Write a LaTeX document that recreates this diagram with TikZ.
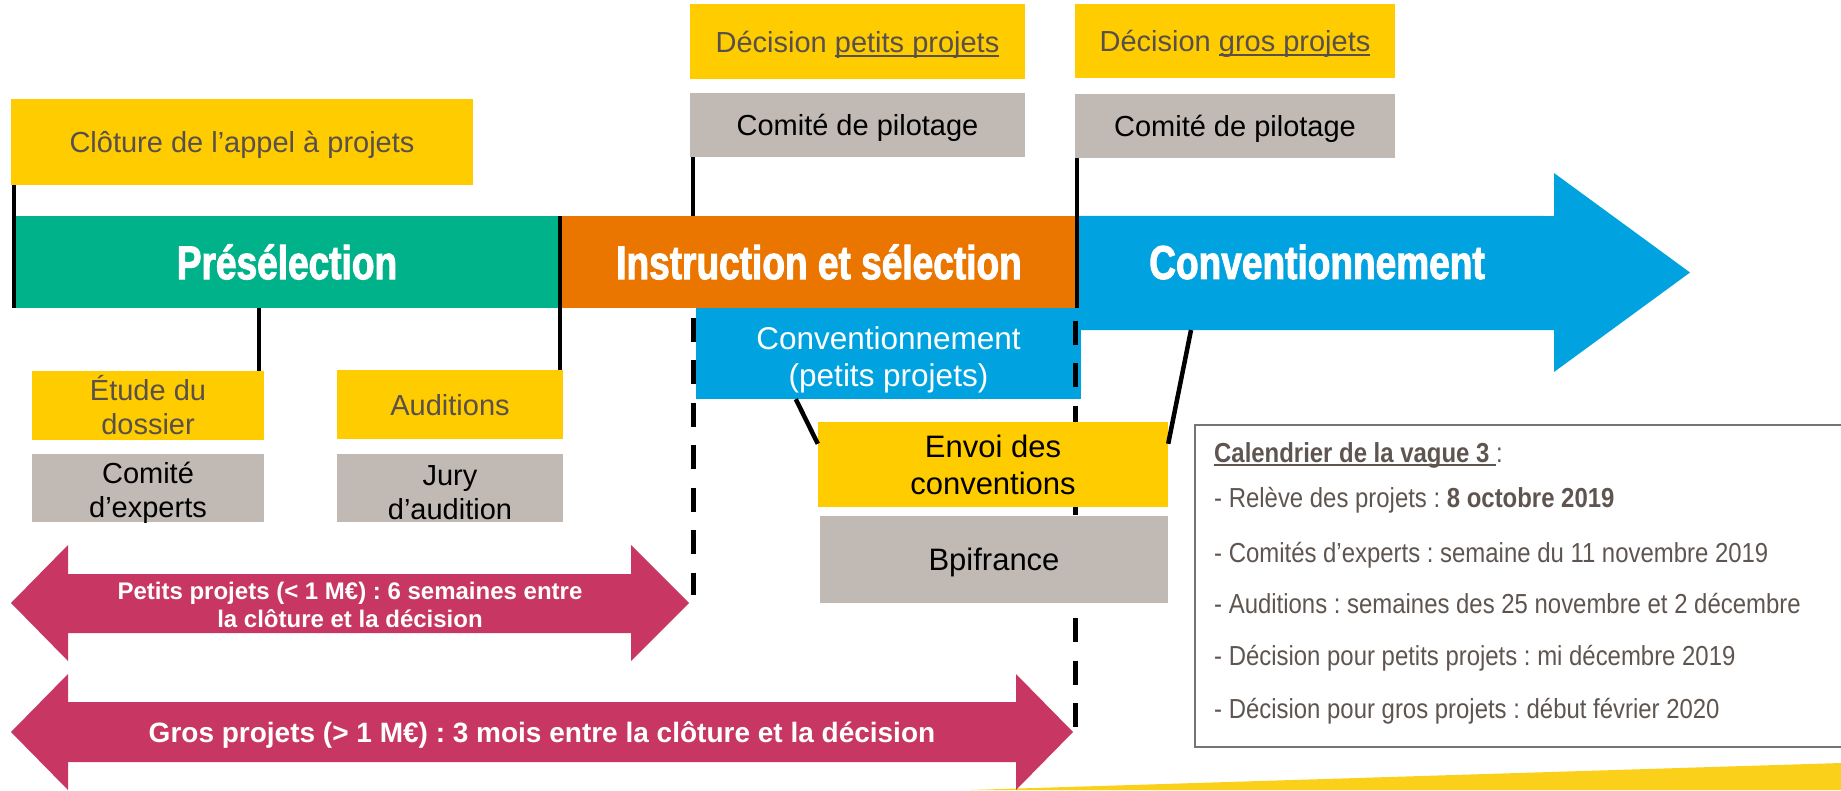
\documentclass[tikz,border=0pt]{standalone}
\usepackage{fontspec}
\setmainfont{Liberation Sans}
\newfontfamily\impactfont[FakeStretch=0.78,FakeBold=2]{Liberation Sans}
\newfontfamily\narrowfont[FakeStretch=0.87]{Liberation Sans}
\usetikzlibrary{calc}
\frenchspacing
\definecolor{ylw}{RGB}{255,204,0}
\definecolor{gry}{RGB}{192,185,180}
\definecolor{grn}{RGB}{0,178,137}
\definecolor{org}{RGB}{234,118,0}
\definecolor{blu}{RGB}{0,163,224}
\definecolor{pnk}{RGB}{200,55,100}
\definecolor{txtgrey}{RGB}{89,80,76}
\definecolor{caltxt}{RGB}{95,85,80}
\definecolor{calborder}{RGB}{120,114,112}
\definecolor{swoosh}{RGB}{250,208,26}
\newcommand\myul[1]{\setbox0\hbox{#1}\rlap{\rule[-0.15em]{\wd0}{0.07em}}\box0}
\tikzset{
  yellowbox/.style={fill=ylw, text=txtgrey, inner sep=0pt, align=center, font=\fontsize{29}{34}\selectfont},
  greybox/.style={fill=gry, text=black, inner sep=0pt, align=center, font=\fontsize{29}{34}\selectfont},
  oneline/.style={text height=21.5pt, text depth=0pt},
  plainbox/.style={inner sep=0pt},
  boxtext/.style={inner sep=0pt, align=center},
  bandbox/.style={inner sep=0pt, text=white, font=\impactfont\bfseries\fontsize{47.5}{50}\selectfont},
  markline/.style={line width=4.5pt, black},
  dashline/.style={line width=5pt, black, dash pattern=on 24pt off 18.5pt},
  arrowtext/.style={text=white, align=center, inner sep=0pt},
  caltext/.style={anchor=base west, text=caltxt, inner sep=0pt, font=\narrowfont\fontsize{27.5}{33}\selectfont}
}
\begin{document}
\begin{tikzpicture}[x=1pt,y=-1pt]
\useasboundingbox (0,0) rectangle (1841,790);

% bottom-right swoosh
\fill[swoosh] (970,790) -- (1841,763) -- (1841,790) -- cycle;

% phase bands
\node[bandbox, fill=grn, minimum width=546, minimum height=92] (presel) at (287,262) {Présélection};
\node[bandbox, fill=org, minimum width=518, minimum height=92] (instr) at (819,262) {Instruction et sélection};
\fill[blu] (instr.north east) -- (1554,216) -- (1554,173) -- (1690,272.5) -- (1554,372) -- (1554,330) -- (1078,330) -- cycle;
\node[bandbox] (convtxt) at (1317,262) {Conventionnement};
\coordinate (bluebot) at (1191,330);

% top boxes
\node[yellowbox, oneline, minimum width=462, minimum height=86] (cloture) at (242,142) {Clôture de l’appel à projets};
\node[yellowbox, oneline, minimum width=335, minimum height=75] (decp) at (857.5,41.5) {Décision \myul{petits projets}};
\node[greybox, oneline, minimum width=335, minimum height=64] (copil1) at (857.5,125) {Comité de pilotage};
\node[yellowbox, oneline, minimum width=320, minimum height=74] (decg) at (1235,41) {Décision \myul{gros projets}};
\node[greybox, oneline, minimum width=320, minimum height=64] (copil2) at (1235,126) {Comité de pilotage};

% lower-left boxes
\node[yellowbox, minimum width=232, minimum height=69] (etude) at (148,405.5) {Étude du\\dossier};
\node[greybox, minimum width=232, minimum height=68] (cexp) at (148,488) {};
\node[boxtext, font=\fontsize{29}{34}\selectfont, text=black] (cexptxt) at (148,493) {Comité\\d’experts};
\node[yellowbox, oneline, minimum width=226, minimum height=69] (audit) at (450,404.5) {Auditions};
\node[greybox, minimum width=226, minimum height=68] (jury) at (450,488) {};
\node[boxtext, font=\fontsize{29}{34}\selectfont, text=black] (jurytxt) at (450,493) {Jury\\d’audition};

% conventionnement petits projets
\node[plainbox, fill=blu, minimum width=385, minimum height=91] (convp) at (888.5,353.5) {};
\node[boxtext, text=white, font=\fontsize{31.5}{37}\selectfont] (convptxt) at (888.5,360) {Conventionnement\\(petits projets)};

% solid marker lines
\draw[markline] (presel.west |- cloture.south) -- (presel.south west);
\draw[markline] (presel.north east) -- (presel.north east |- audit.north);
\coordinate (e1) at ($(etude.north east)+(-5,0)$);
\draw[markline] (e1) -- (e1 |- presel.south);
\coordinate (c1) at ($(copil1.south west)+(3,0)$);
\draw[markline] (c1) -- (c1 |- instr.north);
\coordinate (c2) at ($(copil2.south west)+(2,0)$);
\draw[markline] (c2) -- (c2 |- instr.south);

% dashed lines
\coordinate (dp) at (693,595);
\coordinate (dg) at (1075,730);
\draw[dashline, dash phase=33pt] (dp |- instr.south) -- (dp);
\draw[dashline, dash phase=30pt] (dg |- instr.south) -- (dg);

% envoi / bpifrance
\node[fill=ylw, text=black, inner sep=0pt, align=center, minimum width=350, minimum height=85,
      font=\fontsize{31}{37}\selectfont] (envoi) at (993,464.5) {Envoi des\\conventions};
\node[fill=gry, text=black, inner sep=0pt, minimum width=348, minimum height=87,
      text height=22.3pt, text depth=0pt, font=\fontsize{31}{37}\selectfont] (bpi) at (994,559.5) {Bpifrance};
\draw[markline] ($(convp.south west)+(100,0)$) -- ([yshift=-22pt]envoi.north west);
\draw[markline] (bluebot) -- ([yshift=-22pt]envoi.north east);

% duration arrows
\fill[pnk] (11,603) -- (68,545) -- (68,574) -- (631,574) -- (631,545) -- (689,603) -- (631,661) -- (631,633) -- (68,633) -- (68,661) -- cycle;
\node[arrowtext, font=\bfseries\fontsize{24}{28}\selectfont] (petitstxt) at (350,605) {Petits projets (< 1 M€) : 6 semaines entre\\la clôture et la décision};
\fill[pnk] (11,732) -- (68,674) -- (68,702) -- (1016,702) -- (1016,674) -- (1073,732) -- (1016,790) -- (1016,762) -- (68,762) -- (68,790) -- cycle;
\node[arrowtext, font=\bfseries\fontsize{28}{32}\selectfont] (grostxt) at (542,735) {Gros projets (> 1 M€) : 3 mois entre la clôture et la décision};

% calendar
\node[draw=calborder, line width=2pt, inner sep=0pt, minimum width=660, minimum height=322, anchor=north west] (cal) at (1194,424) {};
\node[caltext] (calt) at (1214,462) {{\bfseries\myul{Calendrier de la vague 3\ }}:};
\node[caltext] (cal1) at (1214,507) {- Relève des projets : \textbf{8 octobre 2019}};
\node[caltext] (cal2) at (1214,562) {- Comités d’experts : semaine du 11 novembre 2019};
\node[caltext] (cal3) at (1214,613) {- Auditions : semaines des 25 novembre et 2 décembre};
\node[caltext] (cal4) at (1214,665) {- Décision pour petits projets : mi décembre 2019};
\node[caltext] (cal5) at (1214,718) {- Décision pour gros projets : début février 2020};
\end{tikzpicture}
\end{document}
